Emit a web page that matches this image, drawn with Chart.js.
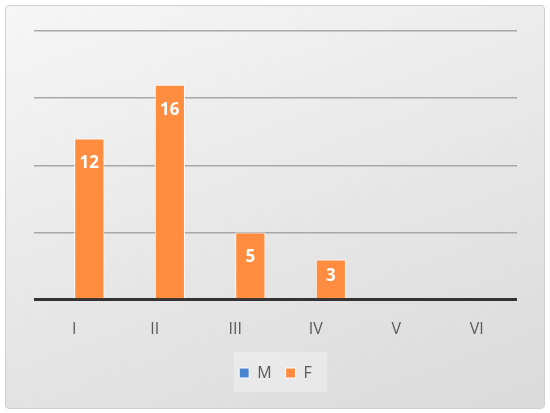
<!DOCTYPE html>
<html><head><meta charset="utf-8">
<script src="https://cdn.jsdelivr.net/npm/chart.js@4"></script>
<style>
html,body{margin:0;padding:0;background:#fff;}
#wrap{position:absolute;left:5px;top:5px;width:538px;height:402px;border:1px solid #cfcfcf;border-radius:4px;
background:linear-gradient(160deg,#f6f6f6 0%,#e6e6e6 55%,#dadada 100%);}
#legbox{position:absolute;left:228px;top:346px;width:93px;height:40px;background:rgba(255,255,255,0.3);}
canvas{position:absolute;left:0;top:0;}
</style></head><body>
<div id="wrap"><div id="legbox"></div><canvas id="c" width="538" height="402"></canvas></div>
<script>
const categories = ['I','II','III','IV','V','VI'];
const seriesM = [0,0,0,0,0,0];
const seriesF = [12,16,5,3,0,0];
const yTicks = [0,5,10,15,20];
const FONT = '"Open Sans", sans-serif';

const labelPlugin = {
  id:'vals',
  afterDatasetsDraw(chart){
    const ctx = chart.ctx;
    const meta = chart.getDatasetMeta(1);
    ctx.save();
    ctx.fillStyle='#fff'; ctx.font='bold 17px '+FONT;
    ctx.textAlign='center'; ctx.textBaseline='middle';
    meta.data.forEach((bar,i)=>{
      const v = seriesF[i]; if(!v) return;
      const y = Math.min(bar.y+25, (bar.y+bar.base)/2 - 3);
      ctx.fillText(String(v), bar.x, y);
    });
    ctx.restore();
  }
};

new Chart(document.getElementById('c'),{
  type:'bar',
  data:{labels:categories,datasets:[
    {label:'M',data:seriesM,backgroundColor:'#4a86d0',borderColor:'#fff',borderWidth:1},
    {label:'F',data:seriesF,backgroundColor:'#ff8c3f',borderColor:'#fff',borderWidth:1}
  ]},
  options:{
    responsive:false,animation:false,
    layout:{padding:{left:28,right:27,top:25,bottom:17}},
    categoryPercentage:0.75,barPercentage:1,
    plugins:{tooltip:{enabled:false},
      legend:{position:'bottom',labels:{boxWidth:10,boxHeight:10,padding:14,color:'#595959',
        font:{size:16,family:FONT}}}},
    scales:{
      x:{grid:{display:false},border:{display:false},
        ticks:{color:'#595959',padding:12,font:{size:16,family:FONT}}},
      y:{min:0,max:20,afterBuildTicks(a){a.ticks=yTicks.map(v=>({value:v}));},
        ticks:{display:false},border:{display:false},
        grid:{drawTicks:false,color:c=>c.tick.value===0?'#333':'#a8a8a8',lineWidth:c=>c.tick.value===0?3:1.5}}
    }
  },
  plugins:[labelPlugin]
});
</script></body></html>
